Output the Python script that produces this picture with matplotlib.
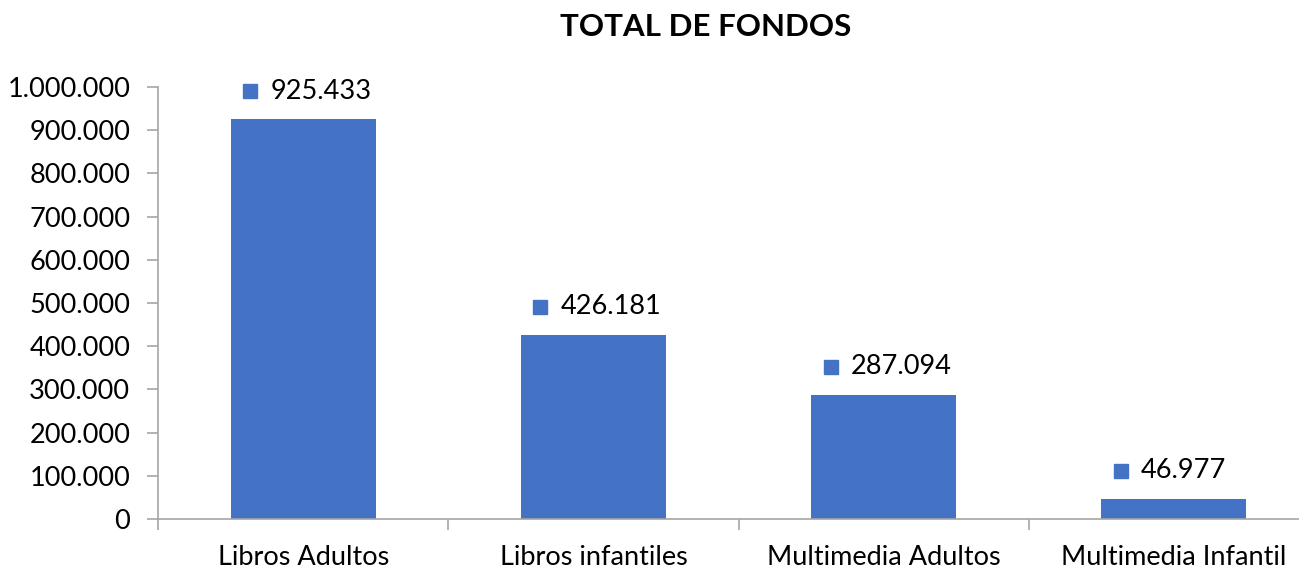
import matplotlib
matplotlib.use("Agg")
import matplotlib.pyplot as plt
from matplotlib.ticker import FuncFormatter
from matplotlib.transforms import offset_copy

plt.rcParams['font.family'] = ['Lato', 'DejaVu Sans']

categorias = ['Libros Adultos', 'Libros infantiles', 'Multimedia Adultos', 'Multimedia Infantil']
valores = [925433, 426181, 287094, 46977]
yticks = [0, 100000, 200000, 300000, 400000, 500000, 600000, 700000, 800000, 900000, 1000000]

azul = '#4472C4'
gris = '#A6A6A6'

def miles(v, pos=None):
    return f"{int(v):,}".replace(",", ".")

fig = plt.figure(figsize=(12.99, 5.68), dpi=100)
ax = fig.add_axes([158/1299, 49/568, 1161/1299, 432/568])

x = list(range(len(categorias)))
ax.bar(x, valores, width=0.5, color=azul, zorder=2)

ax.set_xlim(-0.5, len(categorias) - 0.5)
ax.set_ylim(0, 1000000)
ax.set_yticks(yticks)
ax.yaxis.set_major_formatter(FuncFormatter(miles))

# ticks de categoria en los limites, etiquetas en el centro
ax.set_xticks([i - 0.5 for i in range(len(categorias) + 1)])
ax.set_xticklabels([])
ax.set_xticks(x, minor=True)
ax.set_xticklabels(categorias, minor=True)
ax.tick_params(axis='x', which='major', length=8, width=1.2, color=gris, direction='out')
ax.tick_params(axis='x', which='minor', length=0, pad=19, labelsize=19.5)
ax.tick_params(axis='y', length=8, width=1.2, color=gris, direction='out', pad=12, labelsize=19.5)

for s in ['top', 'right']:
    ax.spines[s].set_visible(False)
for s in ['left', 'bottom']:
    ax.spines[s].set_color(gris)
    ax.spines[s].set_linewidth(1.2)

# etiquetas de datos con marcador cuadrado
for i, v in zip(x, valores):
    tm = offset_copy(ax.transData, fig=fig, x=-53, y=28, units='dots')
    ax.plot([i], [v], marker='s', markersize=10.5, color=azul, transform=tm, clip_on=False)
    tt = offset_copy(ax.transData, fig=fig, x=-33, y=28, units='dots')
    ax.text(i, v, miles(v), transform=tt, ha='left', va='center', fontsize=19.5)

fig.text(706/1299, 1 - 27/568, 'TOTAL DE FONDOS', ha='center', va='center',
         fontsize=22.5, fontweight='bold')

fig.savefig('out.png', dpi=100)
